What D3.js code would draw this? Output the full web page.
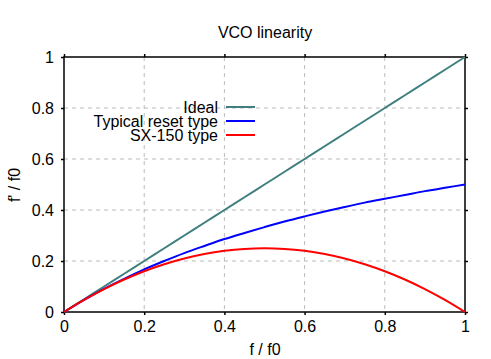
<!DOCTYPE html>
<html><head><meta charset="utf-8">
<script src="https://cdn.jsdelivr.net/npm/d3@7"></script>
<style>
html,body{margin:0;padding:0;background:#fff;}
text{font-family:"Liberation Sans",Arial,sans-serif;font-size:16px;fill:#000;}
</style></head>
<body>
<svg id="c" width="491" height="359"></svg>
<script>
const xValues = [0,0.05,0.1,0.15,0.2,0.25,0.3,0.35,0.4,0.45,0.5,0.55,0.6,0.65,0.7,0.75,0.8,0.85,0.9,0.95,1];
const idealValues = [0,0.05,0.1,0.15,0.2,0.25,0.3,0.35,0.4,0.45,0.5,0.55,0.6,0.65,0.7,0.75,0.8,0.85,0.9,0.95,1];
const typicalValues = [0,0.048,0.091,0.130,0.167,0.200,0.231,0.259,0.286,0.310,0.333,0.355,0.375,0.394,0.412,0.429,0.444,0.459,0.474,0.487,0.5];
const sx150Values = [0,0.0475,0.09,0.1275,0.16,0.1875,0.21,0.2275,0.24,0.2475,0.25,0.2475,0.24,0.2275,0.21,0.1875,0.16,0.1275,0.09,0.0475,0];
const seriesNames = ["Ideal","Typical reset type","SX-150 type"];
const seriesColors = ["#3f7f7f","#0000ff","#ff0000"];
const xTicks = [0,0.2,0.4,0.6,0.8,1];
const yTicks = [0,0.2,0.4,0.6,0.8,1];

const svg = d3.select("#c");
const L=64,R=465,T=57,B=312;
const x = d3.scaleLinear().domain([0,1]).range([L,R]);
const y = d3.scaleLinear().domain([0,1]).range([B,T]);
const fmt = d => String(d);

// grid
const g = svg.append("g");
g.selectAll("line.gx").data(xTicks.filter(d=>d>0&&d<1)).enter().append("line")
 .attr("x1",d=>x(d)).attr("x2",d=>x(d)).attr("y1",T).attr("y2",B)
 .attr("stroke","#bbb").attr("stroke-width",1).attr("stroke-dasharray","4,4");
g.selectAll("line.gy").data(yTicks.filter(d=>d>0&&d<1)).enter().append("line")
 .attr("y1",d=>y(d)).attr("y2",d=>y(d)).attr("x1",L).attr("x2",R)
 .attr("stroke","#bbb").attr("stroke-width",1).attr("stroke-dasharray","4,4");

// axes
const axB = d3.axisBottom(x).tickValues(xTicks).tickSize(3).tickFormat(fmt).tickPadding(6);
const axL = d3.axisLeft(y).tickValues(yTicks).tickSize(3).tickFormat(fmt).tickPadding(7);
const axT = d3.axisTop(x).tickValues(xTicks).tickSize(3).tickFormat("");
const axR = d3.axisRight(y).tickValues(yTicks).tickSize(3).tickFormat("");
function style(sel){sel.select(".domain").remove();sel.selectAll("line").attr("stroke","#000").attr("stroke-width",1.5);sel.selectAll("text").attr("font-size",null).attr("font-family",null).attr("fill","#000");}
svg.append("g").attr("transform",`translate(0,${B})`).call(axB).call(style);
svg.append("g").attr("transform",`translate(${L},0)`).call(axL).call(style);
svg.append("g").attr("transform",`translate(0,${T})`).call(axT).call(style);
svg.append("g").attr("transform",`translate(${R},0)`).call(axR).call(style);
svg.append("rect").attr("x",L).attr("y",T).attr("width",R-L).attr("height",B-T)
 .attr("fill","none").attr("stroke","#000").attr("stroke-width",1.5);

// lines
const series = [idealValues,typicalValues,sx150Values];
const line = d3.line().x((d,i)=>x(xValues[i])).y(d=>y(d)).curve(d3.curveMonotoneX);
series.forEach((s,k)=>{
  svg.append("path").datum(s).attr("d",line).attr("fill","none")
   .attr("stroke",seriesColors[k]).attr("stroke-width",2);
});

// legend
const legY=[107,121,135];
seriesNames.forEach((n,k)=>{
  svg.append("text").attr("x",218).attr("y",legY[k]+5.5).attr("text-anchor","end").text(n);
  svg.append("line").attr("x1",226).attr("x2",255).attr("y1",legY[k]).attr("y2",legY[k])
   .attr("stroke",seriesColors[k]).attr("stroke-width",2);
});

// titles
svg.append("text").attr("x",265).attr("y",38).attr("text-anchor","middle").text("VCO linearity");
svg.append("text").attr("x",265).attr("y",355).attr("text-anchor","middle").text("f / f0");
svg.append("text").attr("transform","translate(20,185) rotate(-90)").attr("text-anchor","middle").text("f' / f0");
</script>
</body></html>
